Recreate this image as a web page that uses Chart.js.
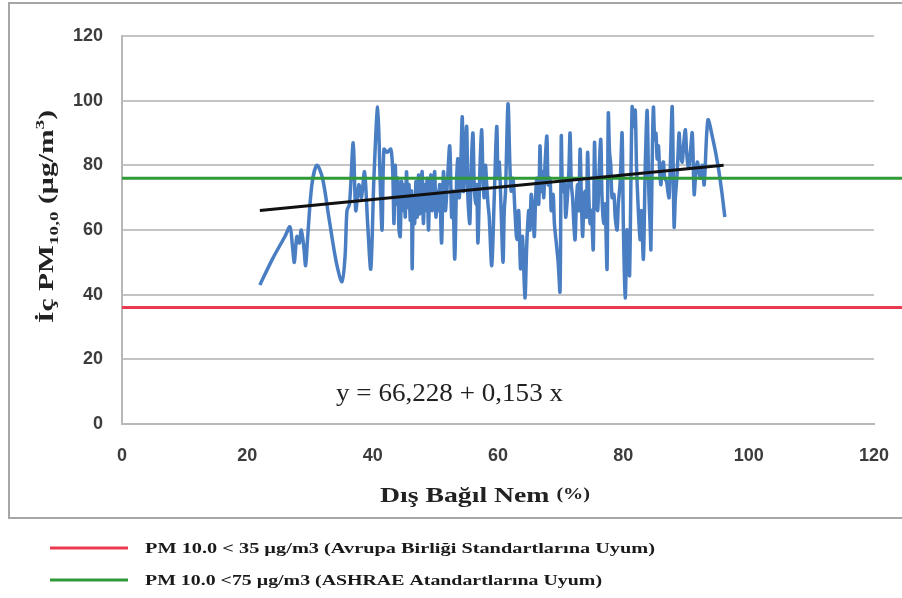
<!DOCTYPE html>
<html>
<head>
<meta charset="utf-8">
<script src="https://cdn.jsdelivr.net/npm/chart.js@4.4.1/dist/chart.umd.min.js"></script>
<style>
  html, body { margin: 0; padding: 0; background: #fff; }
  #wrap { width: 902px; height: 598px; }
</style>
</head>
<body>
<div id="wrap"><canvas id="chart" width="902" height="598"></canvas></div>
<script>
// Dış bağıl nem (%) - iç PM10 ölçümleri
const nemX = [
  22, 24, 26, 26.8, 27.2, 27.5, 27.9, 28.3, 28.6, 29.0, 29.3, 29.6, 30.3, 31.1, 32.0, 33.0, 34.2, 35.1, 35.6, 35.9,
  36.3, 36.9, 37.3, 37.8, 38.2, 38.7, 39.2, 39.7, 40.2, 40.8, 41.2, 41.5, 41.8, 42.3, 42.9,
  43.2, 43.4, 43.6, 43.8, 44.0, 44.2, 44.4, 44.6, 44.8, 45.0, 45.2, 45.4, 45.6, 45.8, 46.0, 46.2, 46.3, 46.5, 46.7, 46.9,
  47.1, 47.3, 47.5, 47.7, 47.9, 48.1, 48.3, 48.5, 48.7, 48.9, 49.1, 49.3, 49.5, 49.7, 49.9, 50.1, 50.3, 50.5, 50.7, 51.0,
  51.3, 51.6, 51.9,
  52.3, 52.6, 52.8, 53.1, 53.4, 53.6, 53.8, 54.0, 54.3, 54.5, 54.7, 55.0, 55.2, 55.5, 55.7, 56.0, 56.2, 56.4, 56.6, 56.8,
  57.1, 57.4, 57.6, 57.8, 58.0, 58.2, 58.4, 58.6, 59.0, 59.4, 59.8, 60.0, 60.2, 60.5, 60.8, 61.0, 61.2, 61.6, 61.9, 62.1,
  62.4, 62.7, 63.0, 63.3, 63.6, 63.9, 64.3,
  64.6, 64.9, 65.1, 65.3, 65.6, 65.8, 66.0, 66.2, 66.5, 66.7, 66.9, 67.1, 67.3, 67.5, 67.8, 68.0, 68.3, 68.5, 68.8, 69.0,
  69.3, 69.6, 69.9, 70.1, 70.3, 70.6, 70.8, 71.0, 71.3, 71.5, 71.7, 71.9, 72.1, 72.3, 72.5, 72.7, 72.9, 73.1, 73.3, 73.5,
  73.7, 73.9, 74.1, 74.3, 74.5, 74.7, 74.9, 75.2, 75.4, 75.6, 75.9, 76.1, 76.4, 76.6, 76.9, 77.1, 77.4, 77.6, 77.8, 78.0,
  78.2, 78.5, 78.7, 79.0, 79.2, 79.5, 79.8, 80.0, 80.3, 80.6, 80.8, 81.0,
  81.4, 81.7, 81.9, 82.1, 82.3, 82.5, 82.7, 82.9, 83.2, 83.5, 83.8, 84.0, 84.1, 84.3, 84.4, 84.6, 84.8, 85.0, 85.2, 85.4,
  85.6, 85.8, 86.0, 86.2, 86.4, 86.6, 86.9, 87.1, 87.3, 87.5, 87.8, 88.1, 88.3, 88.5, 88.7, 88.9, 89.1, 89.4, 89.6, 89.9,
  90.1, 90.4, 90.7, 91.0, 91.3, 91.5, 91.8, 92.1, 92.3, 92.6, 92.9, 93.5, 94.3, 95.1, 95.7, 96.2
];
const pmIc = [
  43, 51, 58, 61, 55, 50, 58, 56, 60, 55, 49, 57, 74, 80, 76, 64, 50, 44, 52, 66,
  68, 87, 66, 74, 70, 78, 62, 48, 76, 98, 75, 60, 85, 84, 85,
  78, 62, 80, 68, 76, 60, 58, 75, 66, 74, 64, 78, 67, 74, 63, 72, 48, 70, 62, 75,
  64, 77, 65, 73, 78, 62, 74, 66, 76, 60, 72, 77, 66, 74, 78, 64, 72, 66, 74, 56,
  78, 66, 74,
  86, 64, 72, 51, 76, 82, 70, 76, 95, 72, 80, 92, 70, 62, 78, 90, 74, 68, 74, 56,
  78, 91, 76, 70, 80, 74, 68, 64, 49, 70, 92, 76, 81, 66, 50, 66, 72, 99, 80, 72,
  76, 66, 57, 66, 48, 58, 39,
  56, 66, 60, 71, 64, 58, 70, 76, 68, 86, 72, 78, 70, 80, 89, 74, 76, 66, 71, 62,
  56, 50, 41, 89, 72, 75, 64, 68, 78, 90, 74, 70, 62, 57, 68, 74, 66, 85, 70, 58,
  68, 72, 64, 84, 70, 62, 66, 54, 87, 72, 66, 76, 88, 70, 62, 68, 48, 96, 84, 80,
  70, 71, 64, 60, 68, 75, 90, 62, 39, 60, 50, 46,
  98, 92, 97, 80, 70, 62, 57, 66, 51, 80, 97, 78, 70, 60, 54, 80, 98, 88, 90, 82,
  86, 78, 74, 80, 81, 76, 75, 72, 70, 80, 98, 61, 70, 75, 82, 90, 84, 81, 86, 91,
  84, 79, 84, 90, 71, 76, 81, 78, 76, 80, 74, 94, 88, 80, 72, 64
];

// doğrusal eğilim çizgisi uçları
const trendX = [22, 96];
const trendY = [66, 80];

// sınır değer çizgileri
const limitX = [0, 130];
const abLimit = 36;
const ashraeLimit = 76;

const xMin = 0, xMax = 120, xStep = 20;
const yMin = 0, yMax = 120, yStep = 20;

const denklem = 'y = 66,228 + 0,153 x';
const xBaslik = ['Dış Bağıl Nem ', '(%)'];
const yBaslik = ['İç PM', '10,0', ' (µg/m', '3', ')'];
const abEtiket = 'PM 10.0 < 35 µg/m3 (Avrupa Birliği Standartlarına Uyum)';
const ashraeEtiket = 'PM 10.0 <75 µg/m3 (ASHRAE Atandartlarına Uyum)';

const toPoints = (xs, ys) => xs.map((x, i) => ({ x, y: ys[i] }));

// metni verilen genişliğe yatay olarak sığdır
function yaziGenislik(ctx, text, x, y, w) {
  const m = ctx.measureText(text).width;
  ctx.save();
  ctx.translate(x, y);
  ctx.scale(w / m, 1);
  ctx.fillText(text, 0, 0);
  ctx.restore();
}

const suslemeler = {
  id: 'suslemeler',
  beforeDraw(chart) {
    const ctx = chart.ctx;
    ctx.save();
    ctx.fillStyle = '#fff';
    ctx.fillRect(0, 0, chart.width, chart.height);
    ctx.strokeStyle = '#a6a6a6';
    ctx.lineWidth = 2;
    ctx.strokeRect(9, 3, 900, 515);
    ctx.restore();
  },
  afterDraw(chart) {
    const ctx = chart.ctx;
    ctx.save();
    ctx.fillStyle = '#222';
    ctx.textBaseline = 'alphabetic';

    // denklem
    ctx.font = '26px "Liberation Serif", "DejaVu Serif", serif';
    yaziGenislik(ctx, denklem, 336, 401, 227);

    // x ekseni başlığı
    ctx.font = 'bold 22px "Liberation Serif", serif';
    const w1 = ctx.measureText(xBaslik[0]).width;
    ctx.font = 'bold 16px "Liberation Serif", serif';
    const w2 = ctx.measureText(xBaslik[1]).width;
    const sx = 210 / (w1 + w2);
    ctx.save();
    ctx.translate(380, 502);
    ctx.scale(sx, 1);
    ctx.font = 'bold 22px "Liberation Serif", serif';
    ctx.fillText(xBaslik[0], 0, 0);
    ctx.font = 'bold 16px "Liberation Serif", serif';
    ctx.fillText(xBaslik[1], w1, -3);
    ctx.restore();

    // y ekseni başlığı (dikey)
    ctx.save();
    ctx.translate(53, 323);
    ctx.rotate(-Math.PI / 2);
    const buyuk = 'bold 20px "Liberation Serif", serif';
    const kucuk = 'bold 13px "Liberation Serif", serif';
    const parcalar = [
      [yBaslik[0], buyuk, 0],
      [yBaslik[1], kucuk, 5],
      [yBaslik[2], buyuk, 0],
      [yBaslik[3], kucuk, -9],
      [yBaslik[4], buyuk, 0]
    ];
    let toplam = 0;
    parcalar.forEach(p => { ctx.font = p[1]; toplam += ctx.measureText(p[0]).width; });
    ctx.scale(213 / toplam, 1);
    let px = 0;
    parcalar.forEach(p => {
      ctx.font = p[1];
      ctx.fillText(p[0], px, p[2]);
      px += ctx.measureText(p[0]).width;
    });
    ctx.restore();

    // alt açıklama
    const ds = chart.data.datasets;
    const satirlar = [
      [ds[2].borderColor, abEtiket, 548, 510],
      [ds[3].borderColor, ashraeEtiket, 580, 457]
    ];
    ctx.font = 'bold 14px "Liberation Serif", serif';
    satirlar.forEach(([renk, metin, y, w]) => {
      ctx.strokeStyle = renk;
      ctx.lineWidth = 3;
      ctx.beginPath();
      ctx.moveTo(50, y);
      ctx.lineTo(128, y);
      ctx.stroke();
      ctx.fillStyle = '#1a1a1a';
      yaziGenislik(ctx, metin, 145, y + 5, w);
    });
    ctx.restore();
  }
};

new Chart(document.getElementById('chart'), {
  type: 'scatter',
  data: {
    datasets: [
      {
        label: 'İç PM10',
        data: toPoints(nemX, pmIc),
        showLine: true,
        borderColor: '#4a7ec3',
        borderWidth: 3.5,
        tension: 0.3,
        pointRadius: 0,
        order: 3
      },
      {
        label: 'Eğilim',
        data: toPoints(trendX, trendY),
        showLine: true,
        borderColor: '#111',
        borderWidth: 3,
        pointRadius: 0,
        order: 0
      },
      {
        label: abEtiket,
        data: toPoints(limitX, [abLimit, abLimit]),
        showLine: true,
        borderColor: '#ea3a52',
        borderWidth: 3,
        pointRadius: 0,
        clip: false,
        order: 1
      },
      {
        label: ashraeEtiket,
        data: toPoints(limitX, [ashraeLimit, ashraeLimit]),
        showLine: true,
        borderColor: '#2f9a37',
        borderWidth: 3,
        pointRadius: 0,
        clip: false,
        order: 2
      }
    ]
  },
  options: {
    responsive: false,
    animation: false,
    devicePixelRatio: 1,
    layout: { padding: { left: 0, right: 28, top: 36, bottom: 104 } },
    plugins: {
      legend: { display: false },
      tooltip: { enabled: false }
    },
    scales: {
      x: {
        type: 'linear',
        min: xMin,
        max: xMax,
        ticks: {
          stepSize: xStep,
          padding: 21,
          color: '#3c3c3c',
          font: { family: '"Liberation Sans", Arial, sans-serif', size: 18, weight: 'bold' }
        },
        grid: { display: false, drawTicks: false },
        border: { display: true, color: '#b8b8b8', width: 2 },
        afterFit: s => { s.height = 70; s.paddingLeft = 0; s.paddingRight = 0; }
      },
      y: {
        min: yMin,
        max: yMax,
        ticks: {
          stepSize: yStep,
          padding: 19,
          color: '#3c3c3c',
          font: { family: '"Liberation Sans", Arial, sans-serif', size: 18, weight: 'bold' }
        },
        grid: { color: '#c4c4c4', lineWidth: 2, drawTicks: false },
        border: { display: true, color: '#b8b8b8', width: 2 },
        afterFit: s => { s.width = 122; s.paddingTop = 0; s.paddingBottom = 0; }
      }
    }
  },
  plugins: [suslemeler]
});
</script>
</body>
</html>
